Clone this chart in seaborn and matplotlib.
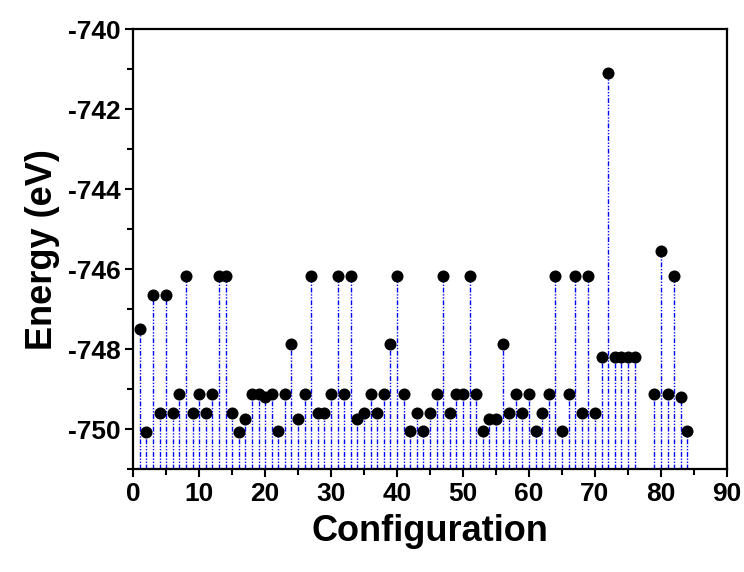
# ------------------------------
# IMPORT LIBRARIES
# ------------------------------

import numpy as np
import pandas as pd

import matplotlib
matplotlib.use("Agg")
import matplotlib.pyplot as plt
from matplotlib.ticker import MultipleLocator
import seaborn as sns

# ------------------------------
# DATA
# ------------------------------

configuration = list(range(1, 77)) + [79, 80, 81, 82, 83, 84]

energy = [
    -747.50, -750.07, -746.65, -749.60, -746.65, -749.60, -749.13, -746.17,
    -749.60, -749.13, -749.60, -749.13, -746.17, -746.17, -749.60, -750.07,
    -749.76, -749.13, -749.13, -749.20, -749.13, -750.05, -749.13, -747.87,
    -749.76, -749.13, -746.17, -749.60, -749.60, -749.13, -746.17, -749.13,
    -746.17, -749.76, -749.60, -749.13, -749.60, -749.13, -747.87, -746.17,
    -749.13, -750.05, -749.60, -750.05, -749.60, -749.13, -746.17, -749.60,
    -749.13, -749.13, -746.17, -749.13, -750.05, -749.76, -749.76, -747.87,
    -749.60, -749.13, -749.60, -749.13, -750.05, -749.60, -749.13, -746.17,
    -750.05, -749.13, -746.17, -749.60, -746.17, -749.60, -748.21, -741.10,
    -748.21, -748.21, -748.21, -748.21,
    -749.13, -745.55, -749.13, -746.17, -749.19, -750.05,
]

x_ticks = [0, 10, 20, 30, 40, 50, 60, 70, 80, 90]
y_ticks = [-750, -748, -746, -744, -742, -740]

df = pd.DataFrame({"Configuration": configuration, "Energy": energy})

# ------------------------------
# STYLE
# ------------------------------

sns.set_style("ticks")
plt.rcParams["font.family"] = ["Liberation Sans", "DejaVu Sans"]
plt.rcParams["font.weight"] = "bold"
plt.rcParams["axes.unicode_minus"] = False
plt.rcParams["text.color"] = "black"
plt.rcParams["axes.labelcolor"] = "black"
plt.rcParams["xtick.color"] = "black"
plt.rcParams["ytick.color"] = "black"

# ------------------------------
# PLOT
# ------------------------------

fig = plt.figure(figsize=(7.44, 5.72), dpi=100)
ax = fig.add_axes([0.179, 0.180, 0.798, 0.769])

y_bottom = -751

ax.vlines(
    df["Configuration"],
    y_bottom,
    df["Energy"],
    colors="blue",
    linewidth=1.0,
    linestyles=[(0, (3.5, 1.2, 1, 1.2, 1, 1.2))],
    zorder=1
)

sns.scatterplot(
    data=df,
    x="Configuration",
    y="Energy",
    color="black",
    s=75,
    edgecolor="black",
    linewidth=0,
    zorder=3,
    ax=ax
)

ax.set_xlim(0, 90)
ax.set_ylim(y_bottom, -740)

ax.set_xticks(x_ticks)
ax.set_yticks(y_ticks)
ax.xaxis.set_minor_locator(MultipleLocator(5))
ax.yaxis.set_minor_locator(MultipleLocator(1))

ax.set_xlabel("Configuration", fontsize=26, fontweight="bold", labelpad=6)
ax.set_ylabel("Energy (eV)", fontsize=26, fontweight="bold", labelpad=6)

for spine in ax.spines.values():
    spine.set_visible(True)
    spine.set_linewidth(1.6)
    spine.set_color("black")

ax.tick_params(
    axis="both", which="major", direction="out",
    length=6, width=1.5, labelsize=19, pad=3,
    top=False, right=False, colors="black"
)
ax.tick_params(
    axis="both", which="minor", direction="out",
    length=4, width=1.5, top=False, right=False
)

for label in ax.get_xticklabels() + ax.get_yticklabels():
    label.set_fontweight("bold")

fig.savefig("out.png", dpi=100)
